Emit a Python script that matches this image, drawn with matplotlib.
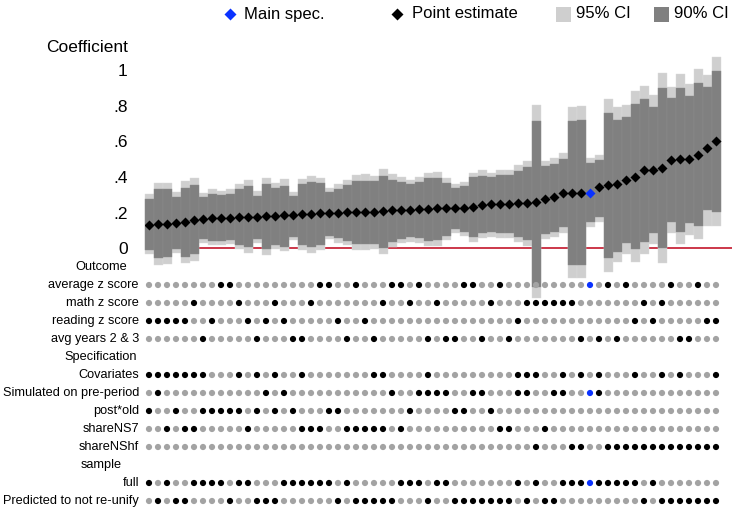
import matplotlib
matplotlib.use('Agg')
import matplotlib.pyplot as plt
from matplotlib.transforms import blended_transform_factory

plt.rcParams['font.family'] = ['Liberation Sans', 'DejaVu Sans']

# point estimates, sorted ascending (one per specification)
estimate = [0.133, 0.135, 0.137, 0.140, 0.145, 0.158, 0.165, 0.167, 0.169, 0.172,
            0.174, 0.176, 0.177, 0.180, 0.182, 0.186, 0.187, 0.192, 0.194, 0.196,
            0.199, 0.200, 0.202, 0.204, 0.205, 0.206, 0.209, 0.212, 0.214, 0.215,
            0.218, 0.220, 0.224, 0.224, 0.226, 0.227, 0.233, 0.244, 0.246, 0.247,
            0.250, 0.252, 0.255, 0.261, 0.275, 0.289, 0.310, 0.311, 0.312, 0.312,
            0.342, 0.352, 0.360, 0.385, 0.401, 0.437, 0.440, 0.448, 0.497, 0.499,
            0.500, 0.525, 0.562, 0.600]
ci95_high = [0.302, 0.368, 0.368, 0.314, 0.377, 0.392, 0.312, 0.330, 0.323, 0.330,
             0.358, 0.383, 0.321, 0.392, 0.368, 0.386, 0.317, 0.386, 0.405, 0.392,
             0.340, 0.358, 0.383, 0.411, 0.414, 0.407, 0.442, 0.414, 0.398, 0.383,
             0.398, 0.420, 0.426, 0.396, 0.358, 0.373, 0.424, 0.439, 0.424, 0.439,
             0.439, 0.467, 0.491, 0.803, 0.491, 0.508, 0.532, 0.793, 0.797, 0.504,
             0.523, 0.835, 0.790, 0.803, 0.883, 0.909, 0.859, 0.984, 0.906, 0.976,
             0.919, 1.003, 0.971, 1.070]
ci90_high = [0.274, 0.330, 0.330, 0.286, 0.340, 0.355, 0.286, 0.304, 0.299, 0.304,
             0.332, 0.351, 0.295, 0.360, 0.340, 0.351, 0.295, 0.358, 0.373, 0.364,
             0.317, 0.332, 0.355, 0.379, 0.379, 0.377, 0.405, 0.383, 0.370, 0.358,
             0.370, 0.392, 0.396, 0.368, 0.340, 0.349, 0.398, 0.407, 0.398, 0.411,
             0.411, 0.433, 0.457, 0.713, 0.461, 0.472, 0.498, 0.715, 0.719, 0.476,
             0.495, 0.760, 0.719, 0.734, 0.807, 0.835, 0.793, 0.900, 0.840, 0.900,
             0.855, 0.928, 0.906, 0.995]
ci90_low = [-0.010, -0.056, -0.051, -0.004, -0.051, -0.034, 0.050, 0.041, 0.043, 0.047,
            0.018, 0.005, 0.052, -0.006, 0.018, 0.009, 0.065, 0.018, 0.005, 0.018,
            0.069, 0.056, 0.043, 0.024, 0.024, 0.022, 0.000, 0.037, 0.052, 0.061,
            0.056, 0.043, 0.045, 0.071, 0.106, 0.093, 0.065, 0.088, 0.093, 0.084,
            0.084, 0.065, 0.047, -0.215, 0.078, 0.093, 0.118, -0.093, -0.093, 0.149,
            0.177, -0.056, -0.019, 0.028, -0.006, 0.037, 0.084, 0.000, 0.149, 0.093,
            0.140, 0.125, 0.215, 0.202]
ci95_low = [-0.034, -0.094, -0.088, -0.028, -0.080, -0.069, 0.028, 0.017, 0.018, 0.022,
            -0.002, -0.024, 0.028, -0.038, -0.006, -0.015, 0.047, -0.010, -0.024, -0.010,
            0.050, 0.032, 0.018, -0.010, -0.010, -0.006, -0.034, 0.009, 0.028, 0.037,
            0.032, 0.013, 0.013, 0.047, 0.084, 0.071, 0.034, 0.060, 0.065, 0.056,
            0.056, 0.037, 0.015, -0.278, 0.050, 0.065, 0.088, -0.168, -0.168, 0.121,
            0.149, -0.131, -0.075, -0.032, -0.079, -0.032, 0.022, -0.084, 0.088, 0.022,
            0.075, 0.050, 0.127, 0.127]
main_spec = 49

# which specifications use each choice
avg_z = [8, 9, 19, 20, 23, 27, 28, 30, 35, 36, 39, 49, 51, 53, 58, 61]
math_z = [5, 10, 14, 18, 26, 29, 32, 38, 42, 43, 44, 45, 46, 47, 55, 57]
reading_z = [0, 1, 2, 3, 4, 7, 11, 13, 15, 21, 24, 41, 54, 56, 62, 63]
avg_years = [6, 12, 16, 17, 22, 25, 31, 33, 34, 37, 40, 48, 50, 52, 59, 60]
covariates = [0, 1, 2, 3, 4, 5, 6, 10, 12, 14, 17, 25, 26, 31, 41, 42, 43, 46, 48,
              50, 54, 57, 59, 63]
simulated = [1, 13, 15, 27, 30, 31, 32, 33, 36, 37, 41, 42, 45, 46, 49, 50]
post_old = [0, 3, 6, 7, 8, 9, 10, 12, 14, 16, 20, 21, 29, 34, 35, 38]
share_ns7 = [2, 4, 5, 11, 17, 18, 19, 22, 23, 24, 25, 26, 28, 39, 40, 44]
share_nshf = [43, 47, 48, 51, 52, 53, 54, 55, 56, 57, 58, 59, 60, 61, 62, 63]
full = [0, 2, 5, 6, 7, 8, 10, 11, 15, 16, 17, 18, 19, 20, 22, 28, 29, 30, 32, 33,
        41, 43, 46, 47, 48, 49, 50, 51, 52, 53, 54, 56]
pred_not = [1, 3, 4, 9, 12, 13, 14, 21, 23, 24, 25, 26, 27, 31, 34, 35, 36, 37, 38,
            39, 40, 42, 44, 45, 55, 57, 58, 59, 60, 61, 62, 63]

rows = [("Outcome", None),
        ("average z score", avg_z),
        ("math z score", math_z),
        ("reading z score", reading_z),
        ("avg years 2 & 3", avg_years),
        ("Specification", None),
        ("Covariates", covariates),
        ("Simulated on pre-period", simulated),
        ("post*old", post_old),
        ("shareNS7", share_ns7),
        ("shareNShf", share_nshf),
        ("sample", None),
        ("full", full),
        ("Predicted to not re-unify", pred_not)]

light = '#cfcfcf'
dark = '#808080'
blue = '#0a32ff'
grey_dot = '#a3a3a3'

W, H = 732, 507
fig = plt.figure(figsize=(W / 100, H / 100), dpi=100)

n = len(estimate)
x = list(range(n))
xlim = (-0.5, -0.5 + (W - 144.5) / 9)

# coefficient panel
ax = fig.add_axes([144.5 / W, (H - 259) / H, (W - 144.5) / W, (259 - 52) / H])
ax.set_xlim(xlim)
ax.set_ylim(-0.06, 1.1)
ax.axhline(0, color='#c8283c', lw=1.3, zorder=1)
h95 = [b - a for a, b in zip(ci95_low, ci95_high)]
h90 = [b - a for a, b in zip(ci90_low, ci90_high)]
ax.bar(x, h95, bottom=ci95_low, width=1, color=light, edgecolor='#dcdcdc',
       linewidth=0.3, zorder=2, clip_on=False)
ax.bar(x, h90, bottom=ci90_low, width=1, color=dark, edgecolor='#8e8e8e',
       linewidth=0.3, zorder=3, clip_on=False)
others = [i for i in x if i != main_spec]
ax.plot(others, [estimate[i] for i in others], 'D', color='black', ms=5.2,
        mec='none', zorder=4)
ax.plot([main_spec], [estimate[main_spec]], 'D', color=blue, ms=5.2, mec='none',
        zorder=5)
ax.set_yticks([0, 0.2, 0.4, 0.6, 0.8, 1])
ax.set_yticklabels(['0', '.2', '.4', '.6', '.8', '1'], fontsize=12.5)
ax.tick_params(axis='y', length=0, pad=12)
ax.set_xticks([])
for s in ax.spines.values():
    s.set_visible(False)
ax.patch.set_visible(False)
fig.text(128 / W, 1 - 48 / H, 'Coefficient', ha='right', va='center', fontsize=12.5)

# indicator panel
ax2 = fig.add_axes([144.5 / W, 0, (W - 144.5) / W, (H - 259) / H])
ax2.set_xlim(xlim)
ax2.set_ylim((H - 267) / 18, (259 - 267) / 18)
ax2.axis('off')
tr = blended_transform_factory(fig.transFigure, ax2.transData)
for r, (label, members) in enumerate(rows):
    if members is None:
        ax2.text(101 / W, r, label, transform=tr, ha='center', va='center',
                 fontsize=9.2)
        continue
    ax2.text(139 / W, r, label, transform=tr, ha='right', va='center',
             fontsize=9.2)
    cols = [grey_dot] * n
    for i in members:
        cols[i] = 'black'
    if main_spec in members:
        cols[main_spec] = blue
    ax2.scatter(x, [r] * n, s=20, c=cols, linewidths=0, zorder=3)

# legend
lax = fig.add_axes([0, 1 - 28 / H, 1, 28 / H])
lax.set_xlim(0, W)
lax.set_ylim(28, 0)
lax.axis('off')
lax.plot(230, 14, 'D', color=blue, ms=6.5, mec='none')
lax.text(244, 14, 'Main spec.', va='center', fontsize=12)
lax.plot(397, 14, 'D', color='black', ms=6.5, mec='none')
lax.text(412, 14, 'Point estimate', va='center', fontsize=12)
lax.add_patch(plt.Rectangle((556, 6.5), 15, 15, color=light, lw=0))
lax.text(576, 14, '95% CI', va='center', fontsize=12)
lax.add_patch(plt.Rectangle((654, 6.5), 15, 15, color=dark, lw=0))
lax.text(674, 14, '90% CI', va='center', fontsize=12)

fig.savefig('out.png', dpi=100)
